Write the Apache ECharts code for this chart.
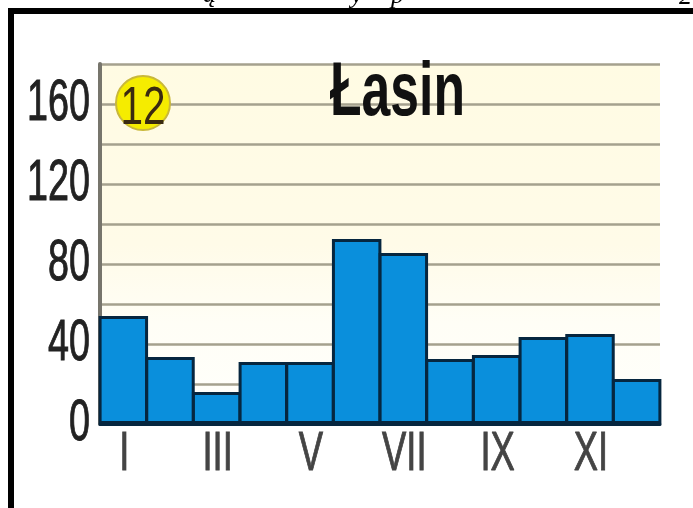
<!DOCTYPE html>
<html lang="en">
<head>
  <meta charset="UTF-8">
  <title>Lasin</title>
  <script src="https://cdn.jsdelivr.net/npm/echarts@6/dist/echarts.min.js"></script>
  <style>
    html, body { margin: 0; padding: 0; background: #fff; }
    #chart { width: 693px; height: 508px; }
  </style>
</head>
<body>
  <div id="chart"></div>

  <script>
    // monthly values
    var months = ['I', 'II', 'III', 'IV', 'V', 'VI', 'VII', 'VIII', 'IX', 'X', 'XI', 'XII']
    var values = [54, 33.5, 16, 31, 31, 92.5, 85.5, 32.5, 34.5, 43.5, 45, 22.5]
    var shownMonths = ['I', 'III', 'V', 'VII', 'IX', 'XI']
    var shownTicks = [0, 40, 80, 120, 160]

    var sans = '"Liberation Sans", Arial, sans-serif'
    var mCharts = echarts.init(document.getElementById('chart'))

    mCharts.setOption({
      animation: false,
      backgroundColor: '#fff',
      grid: {
        left: 100,
        right: 33,
        top: 64,
        bottom: 84,
        show: true,
        borderWidth: 0,
        backgroundColor: {
          type: 'linear', x: 0, y: 0, x2: 0, y2: 1,
          colorStops: [
            { offset: 0, color: '#fffbe3' },
            { offset: 0.5, color: '#fffbe8' },
            { offset: 0.72, color: '#fffef6' },
            { offset: 1, color: '#fffffc' }
          ]
        }
      },
      xAxis: {
        type: 'category',
        data: months,
        axisTick: { show: false },
        axisLabel: { show: false },
        axisLine: { lineStyle: { color: '#06263f', width: 3 } },
        z: 5
      },
      yAxis: {
        type: 'value',
        min: 0,
        max: 180,
        interval: 20,
        axisTick: { show: false },
        axisLabel: { show: false },
        axisLine: { show: true, lineStyle: { color: '#77756c', width: 4 } },
        splitLine: { lineStyle: { color: '#a5a18e', width: 2.5 } }
      },
      series: [
        {
          type: 'bar',
          data: values,
          barWidth: '106%',
          itemStyle: { color: '#0a8fdc', borderColor: '#06263f', borderWidth: 3 }
        }
      ]
    })

    // the tick labels are very condensed in the original, no narrow font here
    // so they are scaled text, placed through the axes
    var elements = [
      { type: 'rect', z: 20, shape: { x: 8, y: 8, width: 685, height: 6 }, style: { fill: '#000' } },
      { type: 'rect', z: 20, shape: { x: 8, y: 8, width: 6, height: 500 }, style: { fill: '#000' } },
      { type: 'circle', z: 10, shape: { cx: 143, cy: 103, r: 27 }, style: { fill: '#f5ec00', stroke: '#c9b83a', lineWidth: 2 } },
      {
        type: 'text', z: 11, x: 143, y: 109, scaleX: 0.75,
        style: { text: '12', font: '54px ' + sans, fill: '#3a2a10', align: 'center', verticalAlign: 'middle' }
      },
      {
        type: 'text', z: 11, x: 330, y: 94, scaleX: 0.68,
        style: { text: 'Łasin', font: 'bold 76px ' + sans, fill: '#111', align: 'left', verticalAlign: 'middle' }
      }
    ]
    shownTicks.forEach(function (t) {
      elements.push({
        type: 'text', z: 11, x: 90, y: mCharts.convertToPixel({ yAxisIndex: 0 }, t), scaleX: 0.65,
        style: { text: String(t), font: '58px ' + sans, fill: '#222', stroke: '#222', lineWidth: 1, align: 'right', verticalAlign: 'middle' }
      })
    })
    shownMonths.forEach(function (m) {
      elements.push({
        type: 'text', z: 11, x: mCharts.convertToPixel({ xAxisIndex: 0 }, m) + 1, y: 455, scaleX: 0.65,
        style: { text: m, font: '56px ' + sans, fill: '#444', stroke: '#444', lineWidth: 1, align: 'center', verticalAlign: 'middle' }
      })
    })
    // bits of the line of text cut off above the frame
    var cutText = [['ą', 203, 8], ['y', 351, 9], ['p', 391, 9], ['2', 679, 10]]
    cutText.forEach(function (c) {
      elements.push({
        type: 'text', z: 1, x: c[1], y: c[2],
        style: { text: c[0], font: 'italic 26px "Liberation Serif", serif', fill: '#000', align: 'left', verticalAlign: 'bottom' }
      })
    })
    mCharts.setOption({ graphic: elements })
  </script>
</body>
</html>
